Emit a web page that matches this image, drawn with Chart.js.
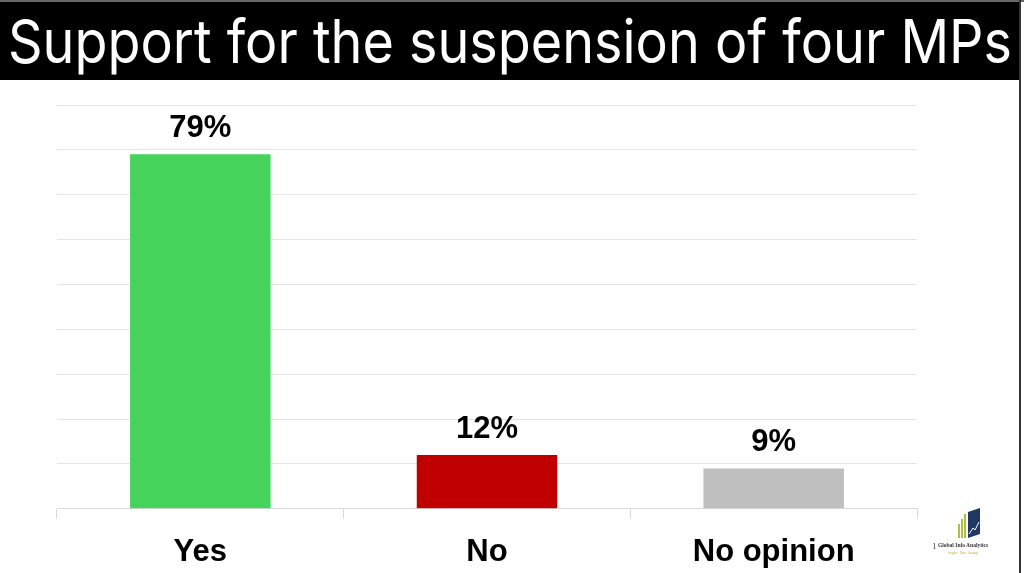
<!DOCTYPE html>
<html><head><meta charset="utf-8">
<script src="https://cdn.jsdelivr.net/npm/chart.js@4.4.0/dist/chart.umd.min.js"></script>
<style>
html,body{margin:0;padding:0;background:#fff;}
#wrap{position:relative;width:1024px;height:573px;overflow:hidden;background:#fff;}
#titlebar{position:absolute;left:0;top:2px;width:1020px;height:78px;background:#000;}
#title{position:absolute;left:8px;top:6px;color:#fff;font-family:Inter,"Liberation Sans",sans-serif;font-size:60px;line-height:66px;white-space:nowrap;transform-origin:0 0;}
#topline{position:absolute;left:0;top:0;width:1024px;height:2px;background:#666;}
#rightline{position:absolute;left:1019px;top:0;width:2px;height:573px;background:#333;}
canvas{position:absolute;left:0;top:0;}
#logo{position:absolute;left:930px;top:508px;width:60px;height:50px;}
</style></head>
<body><div id="wrap">
<canvas id="c" width="1024" height="600"></canvas>
<div id="topline"></div>
<div id="titlebar"><div id="title">Support for the suspension of four MPs</div></div>
<div id="rightline"></div>
<svg id="logo" viewBox="0 0 60 50">
  <rect x="28" y="16" width="2" height="14" fill="#a9c23f"/>
  <rect x="31" y="11" width="2" height="19" fill="#a9c23f"/>
  <rect x="34" y="6" width="2" height="24" fill="#a9c23f"/>
  <polygon points="38,4 50,0 50,26 38,30" fill="#1f3864"/>
  <polyline points="39,26 43,20 45,22 49,14" stroke="#fff" stroke-width="1" fill="none"/>
  <text x="2" y="41" font-size="9" fill="#444" font-family="Liberation Serif">1</text>
  <text x="8" y="39" font-size="5.5" fill="#333" font-family="Liberation Serif" font-weight="bold">Global Info Analytics</text>
  <text x="18" y="46" font-size="3" fill="#c9a227" font-family="Liberation Serif" font-style="italic">Insights · Data · Strategy</text>
</svg>
</div>
<script>
const categories = ["Yes", "No", "No opinion"];
const values = [79, 12, 9];
const barColors = ["#46d35c", "#c00000", "#bfbfbf"];
const yTicks = [0, 10, 20, 30, 40, 50, 60, 70, 80, 90];

// fit title width
(function(){
  const t = document.getElementById('title');
  const w = t.getBoundingClientRect().width;
  t.style.transform = 'scaleX(' + (1004 / w) + ')';
})();

const valueLabels = {
  id: 'valueLabels',
  afterDatasetsDraw(chart) {
    const ctx = chart.ctx;
    const meta = chart.getDatasetMeta(0);
    ctx.save();
    ctx.font = 'bold 31px "Liberation Sans", Arial, sans-serif';
    ctx.fillStyle = '#000';
    ctx.textAlign = 'center';
    ctx.textBaseline = 'alphabetic';
    meta.data.forEach((bar, i) => {
      ctx.fillText(values[i] + '%', bar.x, bar.y - 17);
    });
    ctx.restore();
  }
};

new Chart(document.getElementById('c'), {
  type: 'bar',
  data: {
    labels: categories,
    datasets: [{
      data: values,
      backgroundColor: barColors,
      borderWidth: 0,
      categoryPercentage: 1,
      barPercentage: 0.49
    }]
  },
  options: {
    responsive: false,
    animation: false,
    layout: { padding: { left: 57, right: 107, top: 105, bottom: 14 } },
    plugins: { legend: { display: false }, tooltip: { enabled: false } },
    scales: {
      y: {
        min: 0, max: 90,
        afterBuildTicks(axis) { axis.ticks = yTicks.map(v => ({ value: v })); },
        ticks: { display: false },
        grid: { color: '#e4e4e4', lineWidth: 1, drawTicks: false },
        border: { display: false }
      },
      x: {
        offset: true,
        grid: { offset: true, drawOnChartArea: false, drawTicks: true, tickLength: 10, color: '#d9d9d9' },
        border: { display: true, color: '#d9d9d9' },
        ticks: { color: '#000', padding: 15, font: { family: '"Liberation Sans", Arial, sans-serif', size: 31, weight: 'bold' } }
      }
    }
  },
  plugins: [valueLabels]
});
</script>
</body></html>
